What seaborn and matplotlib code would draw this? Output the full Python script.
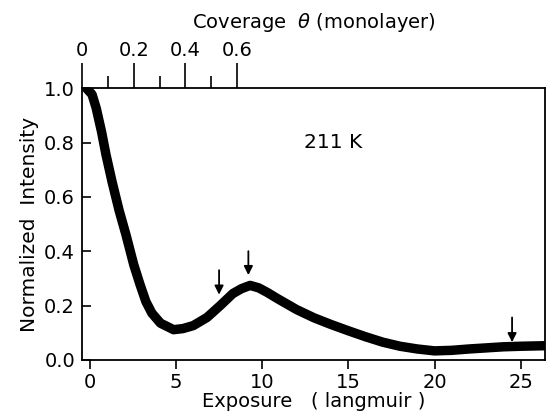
import numpy as np
import pandas as pd
import matplotlib
matplotlib.use("Agg")
import matplotlib.pyplot as plt
import seaborn as sns

# Data
exposure = [-0.2, 0.13, 0.37, 0.68, 0.94, 1.29, 1.7, 2.1, 2.55, 2.9, 3.25,
            3.6, 4.1, 4.86, 5.4, 6.0, 6.8, 7.57, 8.3, 8.8, 9.3, 9.8, 10.3,
            10.9, 12.0, 13.0, 14.0, 15.0, 16.0, 17.0, 18.0, 19.0, 20.0, 21.0,
            22.0, 23.0, 24.0, 25.0, 26.4]
intensity = [1.0, 0.977, 0.927, 0.84, 0.755, 0.656, 0.55, 0.46, 0.35, 0.28,
             0.215, 0.172, 0.135, 0.111, 0.115, 0.126, 0.156, 0.2, 0.244,
             0.262, 0.274, 0.265, 0.248, 0.225, 0.185, 0.155, 0.13, 0.107,
             0.085, 0.065, 0.05, 0.04, 0.033, 0.035, 0.04, 0.044, 0.048, 0.05,
             0.052]
arrow_x = [7.5, 9.2, 24.5]
arrow_tip = [0.24, 0.312, 0.065]
arrow_top = [0.33, 0.40, 0.156]
x_ticks = [0, 5, 10, 15, 20, 25]
x_ticklabels = ["0", "5", "10", "15", "20", "25"]
y_ticks = [0.0, 0.2, 0.4, 0.6, 0.8, 1.0]
y_ticklabels = ["0.0", "0.2", "0.4", "0.6", "0.8", "1.0"]
cov_major = [0.0, 0.2, 0.4, 0.6]
cov_major_labels = ["0", "0.2", "0.4", "0.6"]
cov_minor = [0.1, 0.3, 0.5]

df = pd.DataFrame({"Exposure": exposure, "Intensity": intensity})

sns.set_style("ticks")
plt.rcParams["font.family"] = ["DejaVu Sans"]
for key in ["text.color", "axes.labelcolor", "xtick.color", "ytick.color",
            "axes.edgecolor"]:
    plt.rcParams[key] = "black"

fig = plt.figure(figsize=(5.47, 4.16), dpi=100)
ax = fig.add_axes([0.150, 0.135, 0.846, 0.653])

sns.lineplot(data=df, x="Exposure", y="Intensity", ax=ax, color="black",
             linewidth=6.8, solid_capstyle="round", solid_joinstyle="round")

for xa, yt, ytop in zip(arrow_x, arrow_tip, arrow_top):
    ax.annotate("", xy=(xa, yt), xytext=(xa, ytop),
                arrowprops=dict(arrowstyle="-|>", color="black", lw=1.3,
                                mutation_scale=13, shrinkA=0, shrinkB=0))

ax.text(14.1, 0.80, "211 K", fontsize=14.5, ha="center", va="center")

ax.set_xlim(-0.45, 26.4)
ax.set_ylim(0.0, 1.0)
ax.set_xticks(x_ticks)
ax.set_xticklabels(x_ticklabels)
ax.set_yticks(y_ticks)
ax.set_yticklabels(y_ticklabels)
ax.tick_params(axis="x", direction="out", length=6.5, width=1.2, labelsize=14,
               pad=3)
ax.tick_params(axis="y", direction="in", length=6.5, width=1.2, labelsize=14,
               pad=5)
ax.set_xlabel("Exposure   ( langmuir )", fontsize=14, labelpad=0)
ax.set_ylabel("Normalized  Intensity", fontsize=14.5, labelpad=4)
for s in ax.spines.values():
    s.set_visible(True)
    s.set_linewidth(1.3)
    s.set_color("black")


def to_cov(x):
    return (np.asarray(x) + 0.45) * 0.6 / 9.0


def from_cov(c):
    return np.asarray(c) * 9.0 / 0.6 - 0.45


sec = ax.secondary_xaxis("top", functions=(to_cov, from_cov))
sec.set_xticks(cov_major)
sec.set_xticklabels(cov_major_labels)
sec.set_xticks(cov_minor, minor=True)
sec.tick_params(axis="x", which="major", direction="out", length=18, width=1.2,
                labelsize=14, pad=2)
sec.tick_params(axis="x", which="minor", direction="out", length=9, width=1.2)
sec.spines["top"].set_visible(False)
sec.set_xlabel("Coverage  $\\theta$ (monolayer)", fontsize=14, labelpad=10)

fig.savefig("out.png", dpi=100)
